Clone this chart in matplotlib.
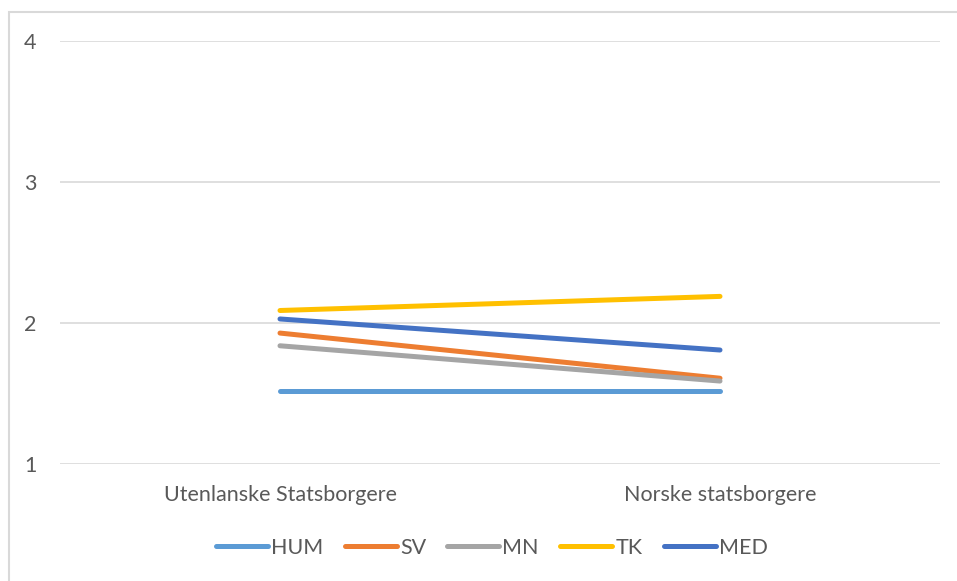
import matplotlib
matplotlib.use("Agg")
import matplotlib.pyplot as plt
from matplotlib.patches import Rectangle

categories = ["Utenlanske Statsborgere", "Norske statsborgere"]
series_names = ["HUM", "SV", "MN", "TK", "MED"]
hum = [1.52, 1.52]
sv = [1.93, 1.61]
mn = [1.84, 1.59]
tk = [2.09, 2.19]
med = [2.03, 1.81]
yticks = [1, 2, 3, 4]

colors = ["#5B9BD5", "#ED7D31", "#A5A5A5", "#FFC000", "#4472C4"]
values = [hum, sv, mn, tk, med]

plt.rcParams['font.family'] = ['Lato', 'DejaVu Sans']
W, H = 957, 581
fig = plt.figure(figsize=(W / 100, H / 100), dpi=100)
ax = fig.add_axes([60 / W, 1 - 464.3 / H, 880 / W, (464.3 - 41) / H])

x = [0, 1]
for name, vals, c in zip(series_names, values, colors):
    ax.plot(x, vals, color=c, lw=3.6, solid_capstyle='round', label=name, zorder=3)

ax.set_xlim(-0.5, 1.5)
ax.set_ylim(1, 4)
ax.set_yticks(yticks)
ax.set_yticklabels([str(t) for t in yticks])
ax.set_xticks(x)
ax.set_xticklabels(categories)
ax.grid(axis='y', color='#d9d9d9', lw=1.2, zorder=0)
for s in ax.spines.values():
    s.set_visible(False)
ax.tick_params(axis='y', length=0, pad=17, labelsize=15.5, labelcolor='#595959')
ax.tick_params(axis='x', length=0, pad=15, labelsize=15.5, labelcolor='#595959')

leg = fig.legend(loc='center', bbox_to_anchor=(492 / W, 1 - 548 / H), ncol=5, frameon=False,
                 fontsize=15.5, handlelength=2.4, handletextpad=0.15, columnspacing=1.0,
                 labelcolor='#595959')

fig.patches.append(Rectangle((9 / W, -0.1), 1.2, 1 - 12 / H + 0.1, transform=fig.transFigure,
                             fill=False, edgecolor='#d9d9d9', lw=1.5))

fig.savefig("out.png", dpi=100, facecolor='white')
